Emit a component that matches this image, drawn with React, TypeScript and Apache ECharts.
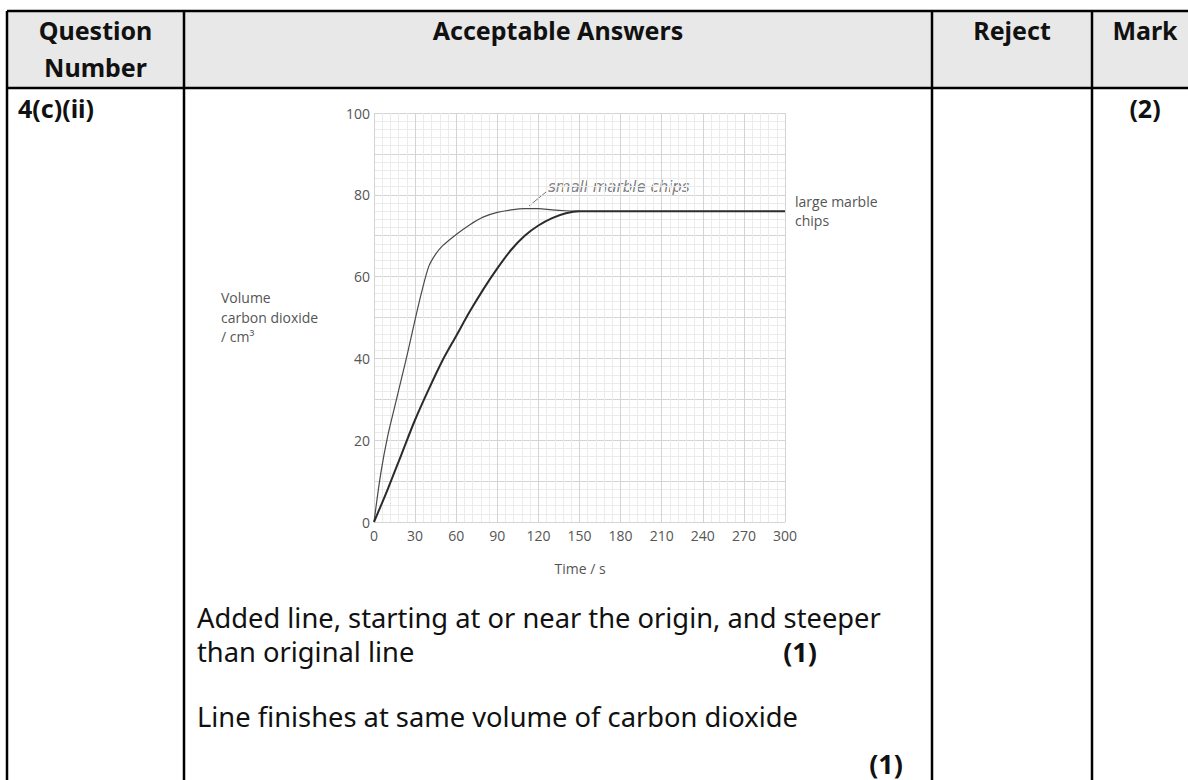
import React, { useEffect, useRef } from "react";
import * as echarts from "echarts";

// ---- data ----
const xTicks = [0, 30, 60, 90, 120, 150, 180, 210, 240, 270, 300];
const yTickLabels = [0, 20, 40, 60, 80, 100];
const smallTimes = [0, 5, 10, 15, 20, 25, 30, 35, 40, 45, 50, 60, 70, 80, 90, 100, 110, 120, 130, 140, 150];
const smallVolumes = [0, 12, 21, 28, 35, 42, 49.5, 56.5, 62.5, 65.5, 67.5, 70.3, 72.7, 74.6, 75.7, 76.3, 76.6, 76.6, 76.3, 76.1, 76];
const largeTimes = [0, 10, 20, 30, 40, 50, 60, 70, 80, 90, 100, 110, 120, 130, 140, 150, 300];
const largeVolumes = [0, 8, 16.5, 25, 32.5, 39.5, 45.5, 51.5, 57, 62, 66.5, 70, 72.5, 74.3, 75.5, 76, 76];

const headers = ["Question\nNumber", "Acceptable Answers", "Reject", "Mark"];
const questionId = "4(c)(ii)";
const totalMark = "(2)";
const answerLine1 = "Added line, starting at or near the origin, and steeper";
const answerLine2 = "than original line";
const answerLine3 = "Line finishes at same volume of carbon dioxide";
const pointMark = "(1)";
const yTitle = ["Volume", "carbon dioxide", "/ cm\u00b3"];
const xTitle = "Time / s";
const smallLabel = "small marble chips";
const largeLabel = ["large marble", "chips"];

const FONT = '"Noto Sans", "Open Sans", sans-serif';
const CHART_FONT = '"Open Sans", "Noto Sans", sans-serif';
const CHART_FS = 14;

function txt(x: number, y: number, text: string, size: number, opts: any = {}) {
  return {
    type: "text",
    x,
    y,
    silent: true,
    style: {
      text,
      fill: opts.fill || "#111",
      fontSize: size,
      fontFamily: opts.family || FONT,
      fontWeight: opts.weight || "normal",
      fontStyle: opts.style || "normal",
      align: opts.align || "left",
      verticalAlign: "middle",
      textAlign: opts.align || "left",
      textVerticalAlign: "middle",
      lineHeight: opts.lineHeight || size * 1.3,
    },
  };
}

function ln(x1: number, y1: number, x2: number, y2: number, w = 2.5, c = "#000") {
  return { type: "line", silent: true, shape: { x1, y1, x2, y2 }, style: { stroke: c, lineWidth: w } };
}

export default function App() {
  const ref = useRef<HTMLDivElement>(null);
  useEffect(() => {
    if (!ref.current) return;
    const chart = echarts.init(ref.current, undefined, { renderer: "svg" });
    const gridLeft = 374;
    const gridTop = 113;
    const gridW = 411;
    const gridH = 409;

    const graphic: any[] = [
      { type: "rect", silent: true, z: -10, shape: { x: 7, y: 11, width: 1200, height: 77 }, style: { fill: "#e8e8e8" } },
      ln(7, 11, 1200, 11),
      ln(7, 88, 1200, 88),
      ln(7, 11, 7, 790),
      ln(184, 11, 184, 790),
      ln(932, 11, 932, 790),
      ln(1092, 11, 1092, 790),
      txt(95.5, 48, headers[0], 25, { weight: "bold", align: "center", lineHeight: 37 }),
      txt(558, 30, headers[1], 25, { weight: "bold", align: "center" }),
      txt(1012, 30, headers[2], 25, { weight: "bold", align: "center" }),
      txt(1145, 30, headers[3], 25, { weight: "bold", align: "center" }),
      txt(18, 108, questionId, 25, { weight: "bold" }),
      txt(1145, 108, totalMark, 25, { weight: "bold", align: "center" }),
      txt(197, 617, answerLine1, 27.3),
      txt(197, 651, answerLine2, 27.3),
      txt(800, 651, pointMark, 27, { weight: "bold", align: "center" }),
      txt(197, 716, answerLine3, 27.3),
      txt(886, 763, pointMark, 27, { weight: "bold", align: "center" }),
      // chart annotations
      txt(221, 297, yTitle[0], CHART_FS, { fill: "#555", family: CHART_FONT }),
      txt(221, 317, yTitle[1], CHART_FS, { fill: "#555", family: CHART_FONT }),
      txt(221, 336, yTitle[2], CHART_FS, { fill: "#555", family: CHART_FONT }),
      txt(580, 568, xTitle, CHART_FS, { fill: "#555", family: CHART_FONT, align: "center" }),
      txt(795, 201, largeLabel[0], CHART_FS, { fill: "#555", family: CHART_FONT }),
      txt(795, 220, largeLabel[1], CHART_FS, { fill: "#555", family: CHART_FONT }),
      txt(548, 187, smallLabel, 15, { fill: "#808080", family: '"DejaVu Sans", sans-serif', style: "italic" }),
      ln(529, 206, 546, 192, 1, "#777"),
    ];

    chart.setOption({
      animation: false,
      textStyle: { fontFamily: CHART_FONT },
      grid: { left: gridLeft, top: gridTop, width: gridW, height: gridH, containLabel: false },
      xAxis: {
        type: "value",
        min: xTicks[0],
        max: xTicks[xTicks.length - 1],
        interval: xTicks[1] - xTicks[0],
        axisLine: { show: false },
        axisTick: { show: false },
        axisLabel: { color: "#555", fontSize: CHART_FS, margin: 6, fontFamily: CHART_FONT },
        splitLine: { show: true, lineStyle: { color: "#d4d4d4", width: 1 } },
        minorTick: { show: false, splitNumber: 5 },
        minorSplitLine: { show: true, lineStyle: { color: "#ebebeb", width: 1 } },
      },
      yAxis: {
        type: "value",
        min: 0,
        max: 100,
        interval: 10,
        axisLine: { show: false },
        axisTick: { show: false },
        axisLabel: {
          color: "#555",
          fontSize: CHART_FS,
          margin: 4,
          fontFamily: CHART_FONT,
          formatter: (v: number) => (yTickLabels.indexOf(v) >= 0 ? String(v) : ""),
        },
        splitLine: { show: true, lineStyle: { color: "#d4d4d4", width: 1 } },
        minorTick: { show: false, splitNumber: 5 },
        minorSplitLine: { show: true, lineStyle: { color: "#ebebeb", width: 1 } },
      },
      series: [
        {
          name: "large marble chips",
          type: "line",
          data: largeTimes.map((t, i) => [t, largeVolumes[i]]),
          smooth: 0.3,
          showSymbol: false,
          lineStyle: { color: "#2b2b2b", width: 2 },
          z: 3,
        },
        {
          name: "small marble chips",
          type: "line",
          data: smallTimes.map((t, i) => [t, smallVolumes[i]]),
          smooth: 0.3,
          showSymbol: false,
          lineStyle: { color: "#4a4a4a", width: 1.2 },
          z: 2,
        },
      ],
      graphic,
    });
    return () => chart.dispose();
  }, []);
  return (
    <div style={{ position: "fixed", left: 0, top: 0, width: 1188, height: 780, overflow: "hidden", background: "#fff" }}>
      <div ref={ref} style={{ width: 1188, height: 780 }} />
    </div>
  );
}
